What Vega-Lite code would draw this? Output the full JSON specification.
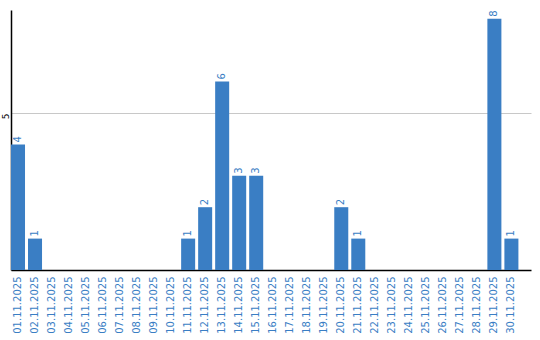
{
  "$schema": "https://vega.github.io/schema/vega-lite/v6.json",
  "width": 520,
  "height": 260,
  "autosize": {"type": "none"},
  "padding": {"left": 11, "top": 10, "right": 9, "bottom": 70},
  "background": "white",
  "config": {"view": {"stroke": null}, "font": "DejaVu Sans"},
  "data": {"values": [
    {"date": "01.11.2025", "count": 4},
    {"date": "02.11.2025", "count": 1},
    {"date": "03.11.2025", "count": 0},
    {"date": "04.11.2025", "count": 0},
    {"date": "05.11.2025", "count": 0},
    {"date": "06.11.2025", "count": 0},
    {"date": "07.11.2025", "count": 0},
    {"date": "08.11.2025", "count": 0},
    {"date": "09.11.2025", "count": 0},
    {"date": "10.11.2025", "count": 0},
    {"date": "11.11.2025", "count": 1},
    {"date": "12.11.2025", "count": 2},
    {"date": "13.11.2025", "count": 6},
    {"date": "14.11.2025", "count": 3},
    {"date": "15.11.2025", "count": 3},
    {"date": "16.11.2025", "count": 0},
    {"date": "17.11.2025", "count": 0},
    {"date": "18.11.2025", "count": 0},
    {"date": "19.11.2025", "count": 0},
    {"date": "20.11.2025", "count": 2},
    {"date": "21.11.2025", "count": 1},
    {"date": "22.11.2025", "count": 0},
    {"date": "23.11.2025", "count": 0},
    {"date": "24.11.2025", "count": 0},
    {"date": "25.11.2025", "count": 0},
    {"date": "26.11.2025", "count": 0},
    {"date": "27.11.2025", "count": 0},
    {"date": "28.11.2025", "count": 0},
    {"date": "29.11.2025", "count": 8},
    {"date": "30.11.2025", "count": 1}
  ]},
  "encoding": {
    "x": {
      "field": "date", "type": "nominal", "sort": null,
      "scale": {"paddingInner": 0.176, "paddingOuter": 0.37, "align": 0},
      "axis": {
        "title": null, "labelAngle": -90, "labelAlign": "right", "labelBaseline": "middle",
        "labelColor": "#3a7ec4", "labelFontSize": 10, "labelFont": "DejaVu Sans",
        "ticks": false, "labelPadding": 6, "domainColor": "#000000", "domainWidth": 1.5
      }
    },
    "y": {
      "field": "count", "type": "quantitative",
      "scale": {"domain": [0, 8.28], "nice": false},
      "axis": {
        "title": null, "values": [5], "labelAngle": -90, "labelAlign": "right", "labelBaseline": "middle",
        "labelFontSize": 9, "labelColor": "#000000", "ticks": false, "labelPadding": 6, "labelFont": "DejaVu Sans",
        "domainColor": "#000000", "domainWidth": 1.5, "gridColor": "#c8c8c8", "grid": true
      }
    }
  },
  "layer": [
    {"mark": {"type": "bar", "color": "#3a7ec4"}},
    {
      "transform": [{"filter": "datum.count > 0"}],
      "mark": {"type": "text", "angle": -90, "align": "left", "baseline": "middle", "dx": 2, "fontSize": 10, "color": "#3a7ec4", "font": "DejaVu Sans"},
      "encoding": {"text": {"field": "count", "type": "quantitative"}}
    }
  ]
}
